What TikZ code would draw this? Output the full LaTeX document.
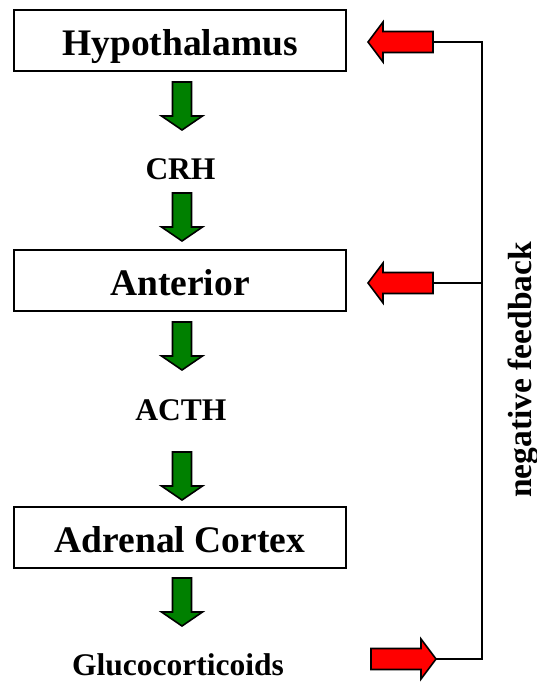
\documentclass[tikz,border=0pt]{standalone}
\usepackage{fontspec}
\setmainfont{Liberation Serif}
\definecolor{agreen}{RGB}{0,128,0}
\definecolor{ared}{RGB}{255,0,0}
\tikzset{
  box/.style={draw, line width=1.4pt, minimum width=332pt, minimum height=61pt, inner sep=0pt,
    text height=30pt, text depth=0pt, font=\bfseries\fontsize{37.5}{40}\selectfont},
  lbl/.style={inner sep=0pt, anchor=base, font=\bfseries\fontsize{31.5}{34}\selectfont},
  downarrow/.pic={\path[draw=black, line width=1.6pt, fill=agreen, line join=miter]
     (-9.5,0) -- (9.5,0) -- (9.5,34) -- (20.5,34) -- (0,48) -- (-20.5,34) -- (-9.5,34) -- cycle;},
  leftarrow/.pic={\path[draw=black, line width=1.6pt, fill=ared, line join=miter]
     (0,0) -- (15,-20) -- (15,-10.5) -- (65,-10.5) -- (65,10.5) -- (15,10.5) -- (15,20) -- cycle;},
  fb/.style={draw, line width=1.2pt}
}
\begin{document}
\begin{tikzpicture}[x=1pt,y=-1pt]
\useasboundingbox (0,0) rectangle (537,682);
\node[box] (hyp) at (180,40.5) {Hypothalamus};
\node[box] (ant) at (180,280.5) {Anterior};
\node[box] (adr) at (180,537.5) {Adrenal Cortex};
\node[lbl] (crh) at (180.5,179.5) {CRH};
\node[lbl] (acth) at (181,420) {ACTH};
\node[lbl] (gluc) at (178,675) {Glucocorticoids};
\node[inner sep=0pt, rotate=90, anchor=base, font=\bfseries\fontsize{33.5}{36}\selectfont] (nf) at (531,370) {negative feedback};
\pic at (182,82) {downarrow};
\pic at (182,193) {downarrow};
\pic at (182,322) {downarrow};
\pic at (182,452) {downarrow};
\pic at (182,578) {downarrow};
\pic at (368,42) {leftarrow};
\pic at (368,283) {leftarrow};
\pic[xscale=-1] at (436,659) {leftarrow};
\coordinate (t1) at (433,42);
\coordinate (t2) at (433,283);
\coordinate (t3) at (436,659);
\coordinate (c1) at (482,42);
\coordinate (c2) at (482,283);
\coordinate (c3) at (482,659);
\draw[fb] (t1) -- (c1) -- (c3) -- (t3);
\draw[fb] (t2) -- (c2);
\end{tikzpicture}
\end{document}
